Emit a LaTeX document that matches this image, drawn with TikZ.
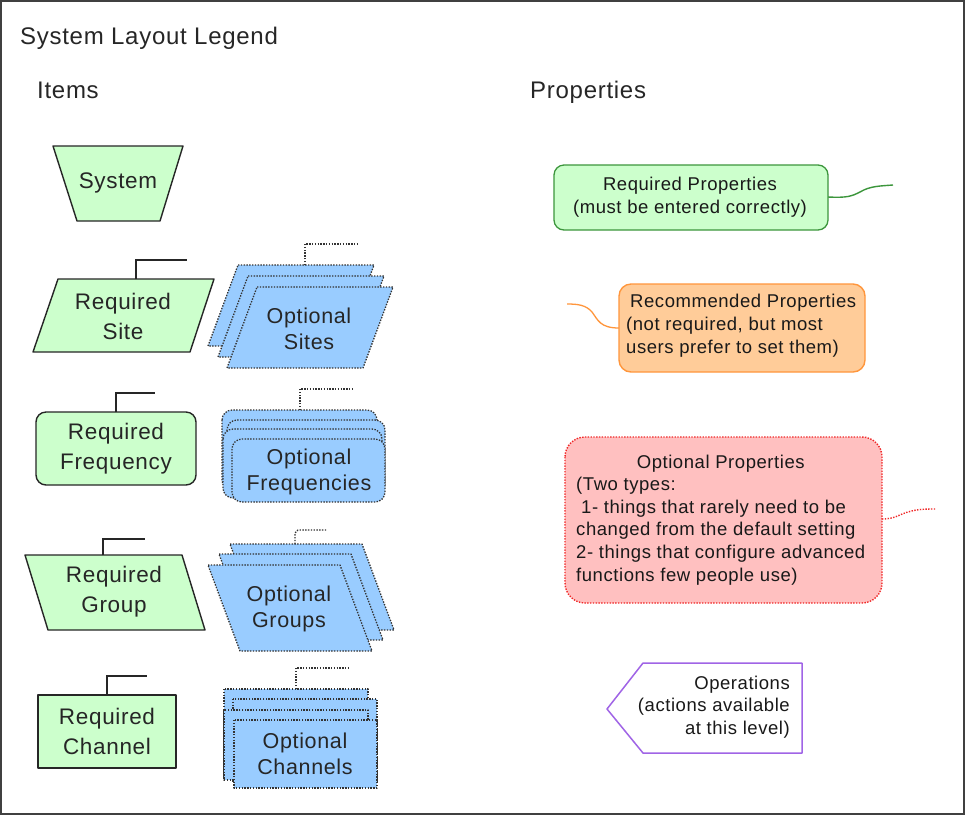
\documentclass[tikz,border=0pt]{standalone}
\usepackage{fontspec}
\setmainfont[LetterSpace=3]{Liberation Sans}
\definecolor{reqfill}{RGB}{204,255,204}
\definecolor{optfill}{RGB}{153,204,255}
\definecolor{framecol}{RGB}{64,64,64}
\definecolor{propgreenline}{RGB}{60,150,60}
\definecolor{recfill}{RGB}{255,204,153}
\definecolor{recline}{RGB}{255,150,60}
\definecolor{optpfill}{RGB}{255,192,192}
\definecolor{optpline}{RGB}{240,40,40}
\definecolor{opline}{RGB}{160,100,230}
\begin{document}
\begin{tikzpicture}[x=1pt,y=-1pt,
  reqshape/.style={draw=black!85, fill=reqfill, line width=1.4pt, line join=round},
  optshape/.style={draw=black!80, fill=optfill, line width=1.3pt, dash pattern=on 1.4pt off 1.4pt, line join=round},
  reqstub/.style={draw=black!85, line width=1.3pt},
  optstub/.style={draw=black!80, line width=1.3pt, dash pattern=on 1.4pt off 1.4pt},
  headtext/.style={inner sep=0pt, font=\fontsize{24}{28}\selectfont, text=black!85},
  shapetext/.style={inner sep=0pt, align=center, font=\fontsize{22.5}{30}\selectfont, text=black!85},
  opttext/.style={inner sep=0pt, align=center, font=\fontsize{21.5}{26.5}\selectfont, text=black!85},
  proptext/.style={inner sep=0pt, font=\fontsize{18.5}{22.6}\selectfont, text=black!90},
]
\useasboundingbox (0,0) rectangle (965,815);
\fill[white] (0,0) rectangle (965,815);
\draw[framecol, line width=2pt] (1,1) rectangle (964,814);

% headings
\node[headtext, anchor=base west] (title) at (20,44) {System Layout Legend};
\node[headtext, anchor=base west] (items) at (37,98) {Items};
\node[headtext, anchor=base west] (props) at (530,98) {Properties};

% ---------- required items ----------
\draw[reqshape] (53,146) -- (183,146) -- (160,221) -- (77,221) -- cycle;
\node[shapetext] (system) at (118,183) {System};

\coordinate (siteTop) at (136,279);
\coordinate (siteStub) at (187,260);
\draw[reqshape] (58,279) -- (214,279) -- (190,352) -- (33,352) -- cycle;
\node[shapetext] (site) at (123,316) {Required\\Site};
\draw[reqstub] (siteTop) |- (siteStub);

\coordinate (freqTop) at (116,412);
\coordinate (freqStub) at (155,393);
\draw[reqshape, rounded corners=10pt] (36,412) rectangle (196,485);
\node[shapetext] (freq) at (116,449) {Required\\Frequency};
\draw[reqstub] (freqTop) |- (freqStub);

\coordinate (grpTop) at (103,555);
\coordinate (grpStub) at (145,539);
\draw[reqshape] (25,555) -- (182,555) -- (205,630) -- (48,630) -- cycle;
\node[shapetext] (group) at (114,592) {Required\\Group};
\draw[reqstub] (grpTop) |- (grpStub);

\coordinate (chanTop) at (107,695);
\coordinate (chanStub) at (147,676);
\draw[reqshape] (38,695) rectangle (176,768);
\node[shapetext] (chan) at (107,731) {Required\\Channel};
\draw[reqstub] (chanTop) |- (chanStub);

% ---------- optional items ----------
\foreach \x/\y in {238/265, 248/276, 257/287}
  \draw[optshape] (\x,\y) -- ++(136,0) -- ++(-30,81) -- ++(-136,0) -- cycle;
\coordinate (ositeTop) at (305,265);
\coordinate (ositeStub) at (357,244);
\node[opttext] (osite) at (309,329) {Optional\\Sites};
\draw[optstub] (ositeTop) |- (ositeStub);

\draw[optshape, rounded corners=10pt] (222,410) rectangle (377,490);
\draw[optshape, rounded corners=10pt] (227,420) rectangle (385,495);
\draw[optshape, rounded corners=10pt] (223,429) rectangle (382,498);
\draw[optshape, rounded corners=10pt] (232,439) rectangle (385,502);
\coordinate (ofreqTop) at (300,410);
\coordinate (ofreqStub) at (353,389);
\node[opttext] (ofreq) at (309,472) {Optional\\Frequencies};
\draw[optstub] (ofreqTop) |- (ofreqStub);

\foreach \x/\y in {230/544, 219/554, 208/565}
  \draw[optshape] (\x,\y) -- ++(132,0) -- ++(32,86) -- ++(-132,0) -- cycle;
\coordinate (ogrpTop) at (295,544);
\coordinate (ogrpStub) at (326,530);
\node[opttext] (ogrp) at (289,609) {Optional\\Groups};
\draw[optstub] (ogrpTop) -- ++(0,-11) -- ++(3,-3) -- (ogrpStub);

\draw[optshape] (224,689) rectangle (368,777);
\draw[optshape] (233,699) rectangle (377,782);
\draw[optshape] (224,710) rectangle (368,780);
\draw[optshape] (234,720) rectangle (377,788);
\coordinate (ochanTop) at (296,689);
\coordinate (ochanStub) at (348,668);
\node[opttext] (ochan) at (305,754) {Optional\\Channels};
\draw[optstub] (ochanTop) |- (ochanStub);

% ---------- properties ----------
\draw[draw=propgreenline, fill=reqfill, line width=1.3pt, rounded corners=10pt] (554,165) rectangle (828,230);
\node[proptext, align=center] (reqp) at (690,197) {Required Properties\\(must be entered correctly)};
\coordinate (reqpR) at (828,197);
\coordinate (reqpEnd) at (893,185);
\draw[propgreenline, line width=1.4pt] (reqpR) .. controls (848,198) and (852,196) .. (860,192) .. controls (870,186) and (880,186) .. (reqpEnd);

\draw[draw=recline, fill=recfill, line width=1.4pt, rounded corners=12pt] (619,284) rectangle (865,372);
\node[proptext, anchor=west] (recp) at (626,326) {\begin{tabular}{@{}l@{}}\multicolumn{1}{@{}c@{}}{\hspace{4pt}Recommended Properties}\\(not required, but most\\users prefer to set them)\end{tabular}};
\coordinate (recpL) at (619,328);
\coordinate (recpEnd) at (567,304);
\draw[recline, line width=1.3pt] (recpL) .. controls (600,328) and (598,320) .. (592,312) .. controls (586,305) and (578,304) .. (recpEnd);

\draw[draw=optpline, fill=optpfill, line width=1.4pt, dash pattern=on 1.4pt off 1.4pt, rounded corners=20pt] (565,437) rectangle (882,603);
\node[proptext, anchor=west] (optp) at (576,520) {\begin{tabular}{@{}l@{}}\multicolumn{1}{@{}c@{}}{Optional Properties}\\(Two types:\\\hspace{5pt}1- things that rarely need to be\\changed from the default setting\\2- things that configure advanced\\functions few people use)\end{tabular}};
\coordinate (optpR) at (882,519);
\coordinate (optpEnd) at (935,509);
\draw[optpline, line width=1.4pt, dash pattern=on 1.4pt off 1.4pt] (optpR) .. controls (895,519) and (900,514) .. (908,512) .. controls (918,509) and (925,509) .. (optpEnd);

\draw[draw=opline, fill=white, line width=1.5pt, line join=round] (643,663) -- (802,663) -- (802,753) -- (643,753) -- (607,709) -- cycle;
\node[proptext, anchor=east, align=right] (ops) at (790,707) {Operations\\(actions available\\at this level)};
\end{tikzpicture}
\end{document}
